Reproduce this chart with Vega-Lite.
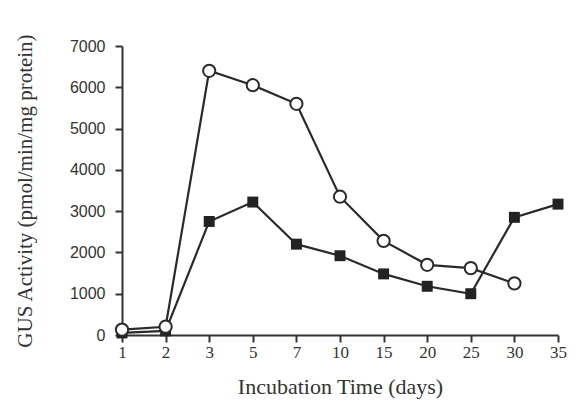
{
  "$schema": "https://vega.github.io/schema/vega-lite/v6.json",
  "width": 436,
  "height": 289,
  "autosize": {"type": "none"},
  "padding": {"left": 122, "top": 46, "right": 24, "bottom": 72},
  "background": "white",
  "config": {"view": {"stroke": null}},
  "data": {"values": [
    {"day": "1", "series": "open", "gus": 130},
    {"day": "2", "series": "open", "gus": 200},
    {"day": "3", "series": "open", "gus": 6400},
    {"day": "5", "series": "open", "gus": 6050},
    {"day": "7", "series": "open", "gus": 5600},
    {"day": "10", "series": "open", "gus": 3350},
    {"day": "15", "series": "open", "gus": 2280},
    {"day": "20", "series": "open", "gus": 1700},
    {"day": "25", "series": "open", "gus": 1620},
    {"day": "30", "series": "open", "gus": 1250},
    {"day": "1", "series": "filled", "gus": 50},
    {"day": "2", "series": "filled", "gus": 100},
    {"day": "3", "series": "filled", "gus": 2750},
    {"day": "5", "series": "filled", "gus": 3220},
    {"day": "7", "series": "filled", "gus": 2200},
    {"day": "10", "series": "filled", "gus": 1920},
    {"day": "15", "series": "filled", "gus": 1480},
    {"day": "20", "series": "filled", "gus": 1180},
    {"day": "25", "series": "filled", "gus": 1000},
    {"day": "30", "series": "filled", "gus": 2850},
    {"day": "35", "series": "filled", "gus": 3170}
  ]},
  "encoding": {
    "x": {
      "field": "day", "type": "ordinal",
      "sort": ["1","2","3","5","7","10","15","20","25","30","35"],
      "scale": {"type": "point", "padding": 0, "domain": ["1","2","3","5","7","10","15","20","25","30","35"]},
      "axis": {
        "title": "Incubation Time (days)",
        "labelAngle": 0,
        "labelFont": "Liberation Serif", "labelFontSize": 17, "labelColor": "#333",
        "titleFont": "Liberation Serif", "titleFontSize": 22, "titleFontWeight": "normal", "titleColor": "#333",
        "domainColor": "#333", "domainWidth": 2, "tickColor": "#333", "tickWidth": 2, "tickSize": 7,
        "labelPadding": 2, "titlePadding": 16, "grid": false
      }
    },
    "y": {
      "field": "gus", "type": "quantitative",
      "scale": {"domain": [0, 7000], "nice": false},
      "axis": {
        "title": "GUS Activity (pmol/min/mg protein)",
        "values": [0,1000,2000,3000,4000,5000,6000,7000],
        "format": "d",
        "labelFont": "Liberation Sans", "labelFontSize": 16, "labelColor": "#333",
        "titleFont": "Liberation Serif", "titleFontSize": 21, "titleFontWeight": "normal", "titleColor": "#333",
        "domainColor": "#333", "domainWidth": 2, "tickColor": "#333", "tickWidth": 2, "tickSize": 7,
        "labelPadding": 10, "titlePadding": 34, "grid": false
      }
    }
  },
  "layer": [
    {
      "mark": {"type": "line", "color": "#2a2a2a", "strokeWidth": 2.2},
      "encoding": {"detail": {"field": "series"}}
    },
    {
      "transform": [{"filter": "datum.series === 'filled'"}],
      "mark": {"type": "point", "shape": "square", "filled": true, "color": "#222", "size": 120, "opacity": 1}
    },
    {
      "transform": [{"filter": "datum.series === 'open'"}],
      "mark": {"type": "point", "shape": "circle", "filled": true, "fill": "white", "stroke": "#2a2a2a", "strokeWidth": 2, "size": 150, "opacity": 1}
    }
  ]
}
